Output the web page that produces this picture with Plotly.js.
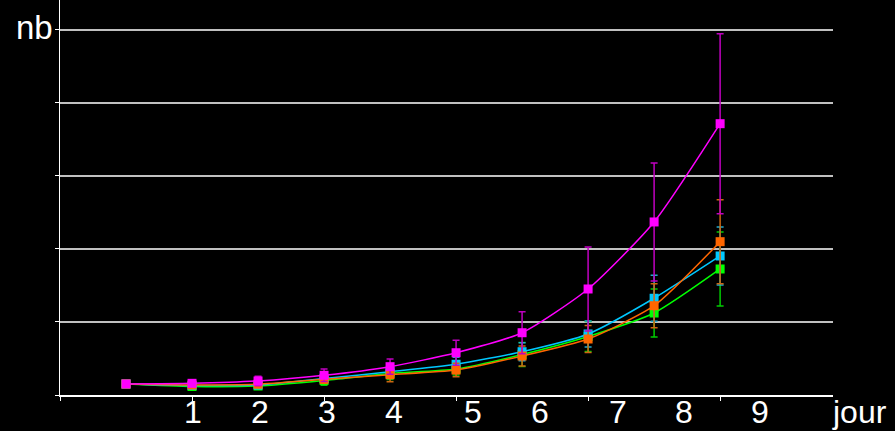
<!DOCTYPE html>
<html>
<head>
<meta charset="utf-8">
<script src="https://cdn.plot.ly/plotly-3.0.1.min.js"></script>
<style>html,body{margin:0;padding:0;background:#000;}#chart{width:895px;height:431px;}</style>
</head>
<body>
<div id="chart"></div>
<script>
// days (point index)
const days = [0, 1, 2, 3, 4, 5, 6, 7, 8, 9];
const dayLabels = ["1", "2", "3", "4", "5", "6", "7", "8", "9"];
const dayLabelPos = [1.02, 2.03, 3.05, 4.06, 5.26, 6.27, 7.45, 8.45, 9.61];

const magenta = [1.51, 1.60, 1.92, 2.70, 3.88, 5.79, 8.53, 14.52, 23.70, 37.16];
const magentaErr = [0.07, 0.27, 0.64, 0.86, 1.05, 1.70, 2.88, 5.75, 8.08, 12.33];
const cyan = [1.51, 1.30, 1.37, 2.26, 3.19, 4.21, 5.93, 8.36, 13.25, 19.04];
const cyanErr = [0.07, 0.21, 0.34, 0.55, 0.68, 0.96, 1.23, 1.78, 3.15, 3.97];
const orange = [1.51, 1.37, 1.47, 2.15, 2.78, 3.42, 5.34, 7.67, 12.23, 21.00];
const orangeErr = [0.07, 0.21, 0.34, 0.55, 0.96, 0.92, 1.37, 1.85, 3.01, 5.75];
const green = [1.51, 1.16, 1.23, 1.99, 2.95, 3.56, 5.55, 8.01, 11.23, 17.26];
const greenErr = [0.07, 0.21, 0.37, 0.66, 0.82, 0.82, 1.64, 2.05, 3.29, 5.07];

function series(y, err, color, errColor) {
  return {
    x: days, y: y, type: 'scatter', mode: 'lines+markers',
    line: {color: color, width: 1.5, shape: 'spline', smoothing: 0.6},
    marker: {symbol: 'square', size: 9, color: color},
    error_y: {type: 'data', array: err, visible: true, color: errColor, thickness: 1.5, width: 3.5},
    showlegend: false, hoverinfo: 'none'
  };
}

const data = [
  series(green, greenErr, '#00ff00', '#00cc00'),
  series(cyan, cyanErr, '#00c8ff', '#22aacc'),
  series(orange, orangeErr, '#ff6600', '#cc6611'),
  series(magenta, magentaErr, '#ff00ff', '#c000c0')
];

const font = {family: 'Liberation Sans, Arial, sans-serif', color: '#ffffff'};
const annotations = dayLabels.map((t, i) => ({
  x: dayLabelPos[i], y: 0, xref: 'x', yref: 'paper', yanchor: 'top', xanchor: 'center',
  yshift: 2, borderpad: 0, text: t, showarrow: false, font: Object.assign({size: 32}, font)
}));
annotations.push({x: 0, y: 1, xref: 'paper', yref: 'paper', xanchor: 'right', yanchor: 'middle',
  xshift: -5, yshift: -27, text: 'nb', showarrow: false, font: Object.assign({size: 33}, font)});
annotations.push({x: 1, y: 0, xref: 'paper', yref: 'paper', xanchor: 'left', yanchor: 'top',
  xshift: -2, yshift: 2, borderpad: 0, text: 'jour', showarrow: false, font: Object.assign({size: 32}, font)});

const layout = {
  width: 895, height: 431,
  paper_bgcolor: '#000000', plot_bgcolor: '#000000',
  margin: {l: 60, r: 62, t: 0, b: 36},
  xaxis: {
    range: [-1, 10.71], showgrid: false, zeroline: false,
    showline: true, linecolor: '#ffffff', linewidth: 1.5,
    tickmode: 'array', tickvals: [-1, 1, 3, 5, 7, 9], ticktext: ['', '', '', '', '', ''],
    ticks: 'outside', ticklen: 4, tickcolor: '#ffffff', tickwidth: 1
  },
  yaxis: {
    range: [0, 54.1], showgrid: true, gridcolor: '#c0c0c0', gridwidth: 1.5, zeroline: false,
    showline: true, linecolor: '#ffffff', linewidth: 1.5,
    tickmode: 'array', tickvals: [0, 10, 20, 30, 40, 50], ticktext: ['', '', '', '', '', ''],
    ticks: 'outside', ticklen: 4, tickcolor: '#ffffff', tickwidth: 1
  },
  annotations: annotations
};

Plotly.newPlot('chart', data, layout, {displayModeBar: false, staticPlot: true});
</script>
</body>
</html>
